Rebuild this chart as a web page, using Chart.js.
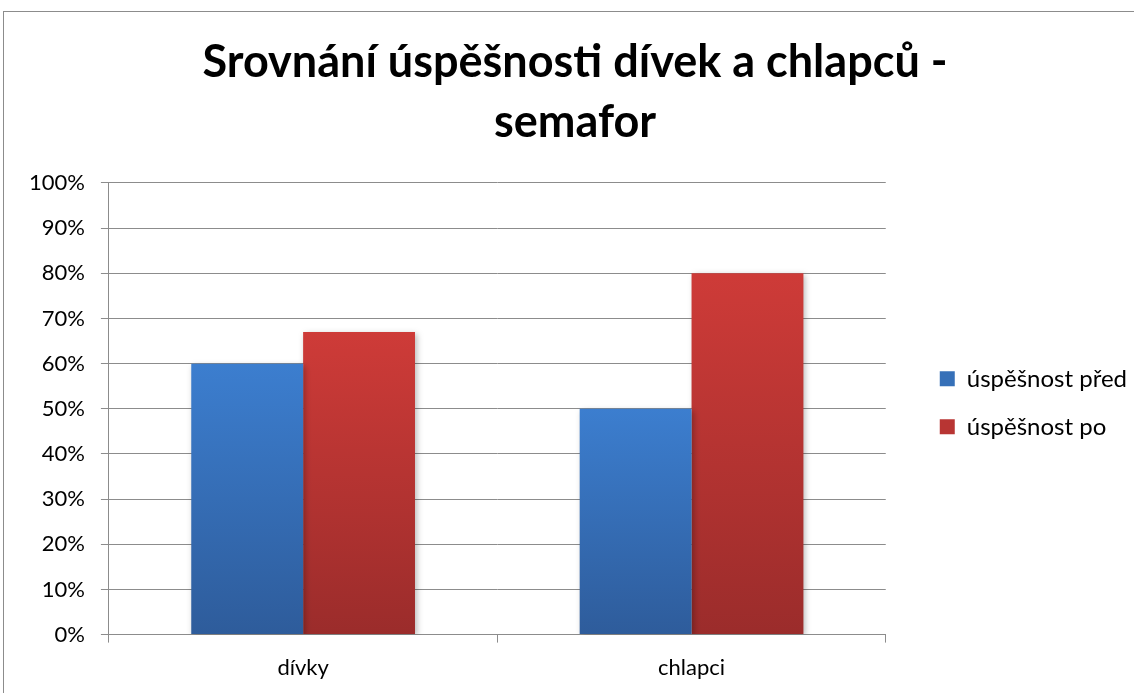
<!DOCTYPE html>
<html>
<head>
<meta charset="utf-8">
<script src="https://cdn.jsdelivr.net/npm/chart.js@4"></script>
<style>
html,body{margin:0;padding:0;background:#fff;overflow:hidden;}
#wrap{position:absolute;left:0;top:0;width:1134px;height:693px;}
#frame{position:absolute;left:3px;top:11px;width:1200px;height:800px;border-left:1px solid #8c8c8c;border-top:1px solid #8c8c8c;}
canvas{position:absolute;left:0;top:0;}
</style>
</head>
<body>
<div id="wrap">
<div id="frame"></div>
<canvas id="c" width="1134" height="693"></canvas>
</div>
<script>
const titleLines = ['Srovnání úspěšnosti dívek a chlapců -', 'semafor'];
const categories = ['dívky', 'chlapci'];
const seriesNames = ['úspěšnost před', 'úspěšnost po'];
const beforeValues = [60, 50];
const afterValues = [67, 80];
const yTicks = [0, 10, 20, 30, 40, 50, 60, 70, 80, 90, 100];

const palettes = [
  {top: '#3c7ecf', bottom: '#2e5c9b', flat: '#3670b8'},
  {top: '#ce3b38', bottom: '#9b2c2b', flat: '#b83533'}
];

const LEGEND_GAP = 30;
const LEGEND_LIFT = 6;

function gradFor(idx) {
  return function(context) {
    const chart = context.chart;
    const p = palettes[idx];
    if (context.type !== 'data' || !chart.chartArea || !chart.scales.y) return p.flat;
    const y = chart.scales.y;
    const top = y.getPixelForValue(context.raw);
    const bot = y.getPixelForValue(0);
    const g = chart.ctx.createLinearGradient(0, top, 0, bot);
    g.addColorStop(0, p.top);
    g.addColorStop(1, p.bottom);
    return g;
  };
}

const shadowPlugin = {
  id: 'barShadow',
  beforeDatasetsDraw(chart) {
    const ctx = chart.ctx;
    ctx.save();
    ctx.shadowColor = 'rgba(0,0,0,0.28)';
    ctx.shadowBlur = 6;
    ctx.shadowOffsetX = 2;
    ctx.shadowOffsetY = 2;
  },
  afterDatasetsDraw(chart) {
    chart.ctx.restore();
  }
};

const legendGapPlugin = {
  id: 'legendGap',
  beforeLayout(chart) {
    const lg = chart.legend;
    if (lg && !lg._gapPatched) {
      const origFit = lg.fit;
      lg.fit = function() { origFit.call(this); this.width += LEGEND_GAP; };
      lg._gapPatched = true;
    }
  },
  afterLayout(chart) {
    const lg = chart.legend;
    if (lg) {
      lg.left += LEGEND_GAP;
      lg.top -= LEGEND_LIFT;
      lg.bottom -= LEGEND_LIFT;
    }
  }
};

Chart.defaults.font.family = 'Lato, "Open Sans", sans-serif';
Chart.defaults.color = '#000';

new Chart(document.getElementById('c'), {
  type: 'bar',
  data: {
    labels: categories,
    datasets: [
      {label: seriesNames[0], data: beforeValues, backgroundColor: gradFor(0), borderWidth: 0},
      {label: seriesNames[1], data: afterValues, backgroundColor: gradFor(1), borderWidth: 0}
    ]
  },
  plugins: [shadowPlugin, legendGapPlugin],
  options: {
    responsive: false,
    animation: false,
    devicePixelRatio: 1,
    layout: {padding: {left: 13, right: -3, top: 0, bottom: 0}},
    datasets: {bar: {barPercentage: 1.0, categoryPercentage: 0.576}},
    plugins: {
      tooltip: {enabled: false},
      title: {
        display: true,
        text: titleLines,
        font: {size: 45, weight: 'bold', lineHeight: 1.3333},
        color: '#000',
        padding: {top: 32, bottom: 31}
      },
      legend: {
        position: 'right',
        fullSize: false,
        labels: {
          boxWidth: 15,
          boxHeight: 15,
          padding: 24,
          font: {size: 24},
          color: '#000',
          generateLabels(chart) {
            return chart.data.datasets.map((ds, i) => ({
              text: ds.label,
              fillStyle: palettes[i].flat,
              strokeStyle: palettes[i].flat,
              lineWidth: 0,
              datasetIndex: i,
              hidden: false
            }));
          }
        }
      }
    },
    scales: {
      x: {
        offset: true,
        grid: {display: true, drawOnChartArea: false, drawTicks: true, tickLength: 8, color: '#8c8c8c', offset: true},
        border: {display: true, color: '#8c8c8c', width: 1},
        ticks: {font: {size: 22}, color: '#000', padding: 12}
      },
      y: {
        min: 0,
        max: 100,
        afterBuildTicks(axis) { axis.ticks = yTicks.map(v => ({value: v})); },
        grid: {color: '#8c8c8c', lineWidth: 1, tickLength: 8},
        border: {display: true, color: '#8c8c8c', width: 1},
        ticks: {
          font: {size: 22},
          color: '#000',
          padding: 16,
          callback: v => v + '%'
        }
      }
    }
  }
});
</script>
</body>
</html>
